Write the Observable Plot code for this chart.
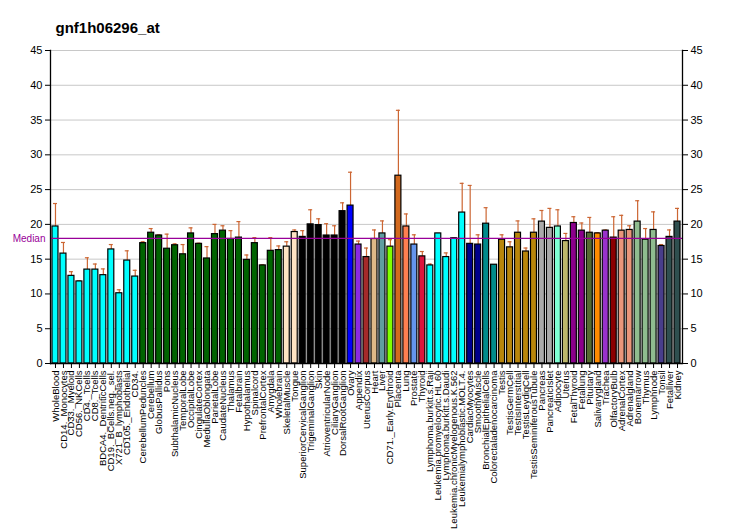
<!DOCTYPE html>
<html>
<head>
<meta charset="utf-8">
<script src="https://cdn.jsdelivr.net/npm/d3@7"></script>
<script src="https://cdn.jsdelivr.net/npm/@observablehq/plot@0.6"></script>
<style>
  html, body { margin: 0; padding: 0; background: white; }
  #chart { width: 732px; height: 530px; }
</style>
</head>
<body>
<div id="chart"></div>
<script>
const title = "gnf1h06296_at";
const tissues = [
  "WholeBlood","CD14._Monocytes","CD33._Myeloid","CD56._NKCells","CD4._Tcells","CD8._Tcells",
  "BDCA4._DentriticCells","CD19._BCells.neg._sel.","X721_B_lymphoblasts","CD105._Endothelial","CD34.",
  "CerebellumPeduncles","Cerebellum","GlobusPallidus","Pons","SubthalamicNucleus","TemporalLobe",
  "OccipitalLobe","CingulateCortex","MedullaOblongata","ParietalLobe","CaudateNucleus","Thalamus",
  "Fetalbrain","Hypothalamus","Spinalcord","PrefrontalCortex","Amygdala","Wholebrain",
  "SkeletalMuscle","Tongue","SuperiorCervicalGanglion","TrigeminalGanglion","Skin",
  "AtrioventricularNode","CiliaryGanglion","DorsalRootGanglion","Ovary","Appendix","UterusCorpus",
  "Heart","Liver","CD71._Early.Erythroid","Placenta","Lung","Prostate","Thyroid",
  "Lymphoma.burkitt.s.Raji","Leukemia.promyelocytic.HL.60","Lymphoma.burkitt.s.Daudi",
  "Leukemia.chronicMyelogenous.K.562","Leukemialymphoblastic.MOLT.4.","CardiacMyocytes",
  "SmoothMuscle","BronchialEpithelialCells","Colorectaladenocarcinoma","Testis","TestisGermCell",
  "TestisInterstitial","TestisLeydigCell","TestisSeminiferousTubule","Pancreas","PancreaticIslet",
  "Adipocyte","Uterus","FetalThyroid","Fetallung","Pituitary","Salivarygland","Trachea",
  "OlfactoryBulb","AdrenalCortex","Adrenalgland","Bonemarrow","Thymus","Lymphnode","Tonsil",
  "Fetalliver","Kidney"
];
const values = [
  19.7,15.8,12.6,11.8,13.5,13.5,12.7,16.4,10.1,14.8,12.5,
  17.3,18.8,18.4,16.5,17.0,15.7,18.7,17.2,15.1,18.6,19.1,17.9,
  18.1,14.9,17.3,14.1,16.2,16.3,
  16.8,18.9,18.2,20.0,19.9,18.4,18.4,21.9,22.7,17.1,15.3,
  17.9,18.7,16.8,27.0,19.7,17.1,15.4,
  14.1,18.7,15.3,18.0,21.7,17.2,17.1,20.1,14.2,
  17.8,16.7,18.8,16.1,18.8,20.4,19.5,19.7,17.6,
  20.2,19.1,18.8,18.7,19.1,18.1,19.1,19.2,20.4,17.8,19.2,16.9,18.2,20.4
];
const errTops = [
  23.0,17.4,13.2,11.9,15.2,14.3,13.6,17.1,10.6,16.2,13.4,
  17.5,19.4,18.5,18.6,17.2,17.1,19.5,17.3,16.8,20.0,19.8,19.1,
  20.4,15.6,18.1,14.2,18.1,16.9,
  17.5,19.2,19.1,22.1,20.8,20.1,19.8,23.1,27.5,17.6,16.6,
  19.2,20.5,17.8,36.4,21.5,18.5,16.1,
  14.3,18.7,15.9,18.1,25.9,25.6,18.5,22.4,14.2,
  18.5,17.5,20.5,16.6,20.8,22.0,22.3,22.1,18.7,
  21.1,20.2,21.0,18.8,19.2,21.1,21.3,19.8,23.4,19.4,21.8,17.1,19.2,22.3
];
const colors = [
  "#00FFFF","#00FFFF","#00FFFF","#00FFFF","#00FFFF","#00FFFF","#00FFFF","#00FFFF","#00FFFF","#00FFFF","#00FFFF",
  "#006400","#006400","#006400","#006400","#006400","#006400","#006400","#006400","#006400","#006400","#006400","#006400",
  "#006400","#006400","#006400","#006400","#006400","#006400",
  "#FFE4C4","#FFE4C4","#000000","#000000","#000000","#000000","#000000","#000000",
  "#0000FF","#8A2BE2","#A52A2A","#DEB887","#5F9EA0","#7FFF00","#D2691E","#FF7F50","#6495ED","#DC143C",
  "#00FFFF","#00FFFF","#00FFFF","#00FFFF","#00FFFF",
  "#00008B","#00008B","#008B8B","#008B8B",
  "#B8860B","#B8860B","#B8860B","#B8860B","#B8860B",
  "#A9A9A9","#A9A9A9","#7FFFD4","#BDB76B","#8B008B","#8B008B","#556B2F","#FF8C00","#9932CC","#8B0000",
  "#E9967A","#E9967A","#8FBC8F","#8FBC8F","#8FBC8F","#483D8B","#2F4F4F","#2F4F4F"
];
const yTicks = [0,5,10,15,20,25,30,35,40,45];
const median = 18.0;

const data = tissues.map((t, i) => ({t, v: values[i], e: errTops[i], c: colors[i]}));
const errColor = "#CC6633";

const chart = Plot.plot({
  width: 732,
  height: 530,
  marginLeft: 50,
  marginRight: 50,
  marginTop: 50,
  marginBottom: 167,
  style: {fontFamily: "Arial, 'Liberation Sans', sans-serif", background: "white", color: "black"},
  x: {domain: tissues, padding: 0.25, round: false, axis: null, label: null},
  y: {domain: [0, 45], axis: null, label: null},
  color: {type: "identity"},
  marks: [
    Plot.gridY(yTicks, {stroke: "#c8c8c8", strokeOpacity: 1}),
    Plot.ruleX(data, {x: "t", y1: "v", y2: "e", stroke: errColor, strokeWidth: 1.2}),
    Plot.tickY(data, {x: "t", y: "e", stroke: errColor, strokeWidth: 1.2, insetLeft: 1, insetRight: 1}),
    Plot.barY(data, {x: "t", y: "v", fill: "c", stroke: "black", strokeWidth: 1.2}),
    Plot.ruleY([median], {stroke: "#990099", strokeWidth: 1.3}),
    Plot.text([median], {y: d => d, text: () => "Median", frameAnchor: "left", dx: -5, textAnchor: "end", fill: "#990099", fontSize: 10}),
    Plot.ruleY([0], {stroke: "black", strokeWidth: 1.3}),
    Plot.frame({anchor: "left", stroke: "black", strokeWidth: 1.3}),
    Plot.frame({anchor: "right", stroke: "black", strokeWidth: 1.3}),
    Plot.axisY(yTicks, {anchor: "left", tickSize: 5, tickPadding: 3, fontSize: 11, stroke: "black", label: null}),
    Plot.axisY(yTicks, {anchor: "right", tickSize: 5, tickPadding: 3, fontSize: 11, stroke: "black", label: null}),
    Plot.axisX({anchor: "bottom", tickSize: 5, tickPadding: 2, tickRotate: -90, fontSize: 9.5, stroke: "black", label: null}),
    Plot.text([title], {text: d => d, frameAnchor: "top-left", dx: 5, dy: -28, textAnchor: "start", fontSize: 15, fontWeight: "bold", fill: "black"})
  ]
});
document.getElementById("chart").appendChild(chart);
</script>
</body>
</html>
